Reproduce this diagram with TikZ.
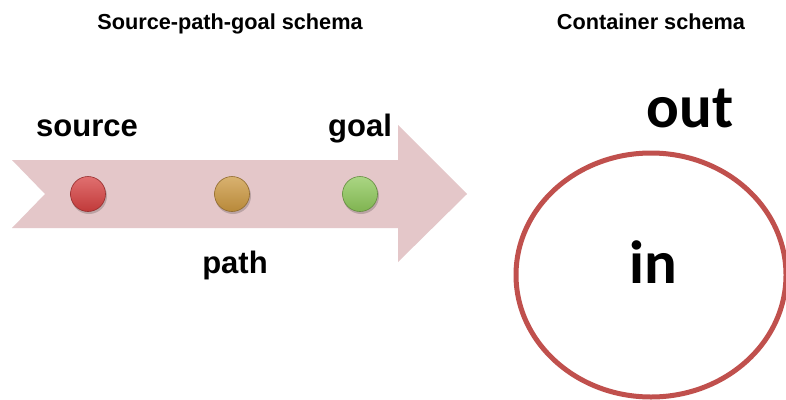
\documentclass[tikz,border=0pt]{standalone}
\usepackage{fontspec}
\setmainfont{Liberation Sans}
\newfontfamily\calfont{Carlito}
\begin{document}
\begin{tikzpicture}[x=1pt,y=-1pt,
  title/.style={font=\fontsize{21.7}{24}\selectfont\bfseries, anchor=base},
  lbl/.style={font=\fontsize{31}{36}\selectfont\bfseries, anchor=base},
  biglbl/.style={font=\calfont\fontsize{61}{70}\selectfont\bfseries, anchor=base},
  dot/.style={circle, minimum size=35pt, inner sep=0pt, draw=#1!70!black, line width=0.6pt,
    top color=#1!75!white, bottom color=#1!90!black},
]
\definecolor{arrowpink}{RGB}{228,199,201}
\definecolor{ringred}{RGB}{192,80,77}
\definecolor{dotred}{RGB}{214,64,64}
\definecolor{dotorange}{RGB}{204,152,64}
\definecolor{dotgreen}{RGB}{142,200,90}
\useasboundingbox (0,0) rectangle (786,399);
\fill[white] (0,0) rectangle (786,399);
% arrow
\fill[arrowpink] (12,160) -- (398,160) -- (398,125) -- (467,194) -- (398,262) -- (398,228) -- (12,228) -- (45,194) -- cycle;
% shadows of dots
\foreach \x in {88,232,360} \fill[black,opacity=0.18] (\x+1,196) circle (18);
\node[dot=dotred] (src) at (88,194) {};
\node[dot=dotorange] (pth) at (232,194) {};
\node[dot=dotgreen] (gl) at (360,194) {};
% titles
\node[title] (t1) at (230,29) {Source-path-goal schema};
\node[title] (t2) at (651,29) {Container schema};
% labels
\node[lbl] (lsrc) at (87,136) {source};
\node[lbl] (lgoal) at (360,136) {goal};
\node[lbl] (lpath) at (235,273) {path};
% container
\draw[ringred, line width=5pt] (651,275) ellipse [x radius=135, y radius=122];
\node[biglbl] (out) at (690,127) {out};
\node[biglbl] (in) at (653,283) {in};
\end{tikzpicture}
\end{document}
